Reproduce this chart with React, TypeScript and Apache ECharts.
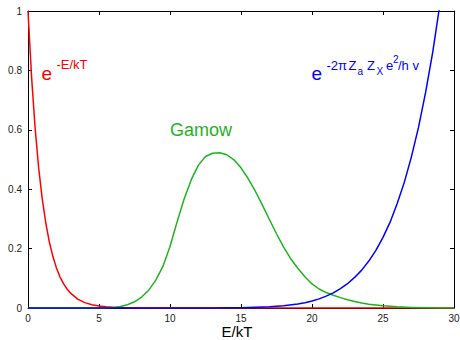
import React, { useEffect, useRef } from "react";
import * as echarts from "echarts";

// Axis ticks
const xTickValues = [0, 5, 10, 15, 20, 25, 30];
const yTickValues = [0, 0.2, 0.4, 0.6, 0.8, 1];

// Red: e^{-E/kT}
const redE = [0, 0.25, 0.5, 0.75, 1, 1.25, 1.5, 1.75, 2, 2.25, 2.5, 2.75, 3, 3.5, 4, 4.5, 5, 5.5, 6, 6.5, 7, 8, 9, 10, 30];
const redV = [1, 0.779, 0.607, 0.472, 0.368, 0.287, 0.223, 0.174, 0.135, 0.105, 0.082, 0.064, 0.05, 0.03, 0.018, 0.011, 0.0067, 0.0041, 0.0025, 0.0015, 0.0009, 0.0003, 0.0001, 0, 0];

// Green: Gamow peak
const gamowE = [0, 5, 5.5, 6, 6.5, 7, 7.5, 8, 8.5, 9, 9.5, 10, 10.5, 11, 11.5, 12, 12.5, 13, 13.5, 14, 14.5, 15, 15.5, 16, 16.5, 17, 17.5, 18, 18.5, 19, 19.5, 20, 20.5, 21, 21.5, 22, 22.5, 23, 23.5, 24, 24.5, 25, 26, 27, 28, 29, 30];
const gamowV = [0, 0, 0.0004, 0.0018, 0.005, 0.011, 0.021, 0.037, 0.06, 0.094, 0.14, 0.207, 0.29, 0.368, 0.432, 0.481, 0.51, 0.521, 0.523, 0.516, 0.499, 0.472, 0.436, 0.394, 0.347, 0.298, 0.25, 0.205, 0.166, 0.134, 0.105, 0.081, 0.064, 0.052, 0.043, 0.035, 0.028, 0.022, 0.017, 0.013, 0.01, 0.0075, 0.004, 0.002, 0.001, 0.0004, 0.0001];

// Blue: tunnelling factor
const blueE = [0, 10, 12, 13, 14, 15, 16, 17, 18, 19, 19.5, 20, 20.5, 21, 21.5, 22, 22.5, 23, 23.5, 24, 24.5, 25, 25.5, 26, 26.5, 27, 27.5, 28, 28.5, 29, 29.5];
const blueV = [0, 0.00003, 0.00013, 0.00027, 0.00055, 0.0011, 0.0022, 0.0041, 0.0076, 0.0136, 0.018, 0.0236, 0.0307, 0.04, 0.0508, 0.065, 0.0817, 0.103, 0.1275, 0.158, 0.194, 0.238, 0.289, 0.352, 0.423, 0.509, 0.608, 0.726, 0.861, 1.02, 1.2];

const RED = "#ff0000";
const GREEN = "#1db41d";
const BLUE = "#0000ff";
const FONT = '"Liberation Sans", Arial, Helvetica, sans-serif';

type Piece = { text: string; x: number; baseline: number; size: number; align?: string };

const redLabel: Piece[] = [
  { text: "e", x: 41.5, baseline: 80, size: 19 },
  { text: "-E/kT", x: 56.5, baseline: 69.5, size: 13 },
];

const blueLabel: Piece[] = [
  { text: "e", x: 311.5, baseline: 80, size: 19 },
  { text: "-2π", x: 326.5, baseline: 70, size: 13 },
  { text: "Z", x: 348.5, baseline: 70, size: 13 },
  { text: "a", x: 357.5, baseline: 75, size: 10 },
  { text: "Z", x: 367, baseline: 70, size: 13 },
  { text: "X", x: 376.5, baseline: 75, size: 10 },
  { text: "e", x: 386, baseline: 70, size: 13 },
  { text: "2", x: 393, baseline: 63, size: 10 },
  { text: "/h v", x: 398, baseline: 70, size: 13 },
];

const gamowLabel: Piece[] = [{ text: "Gamow", x: 170, baseline: 136, size: 18 }];

const axisTitle: Piece[] = [{ text: "E/kT", x: 237, baseline: 337, size: 15, align: "center" }];

function pieceElements(pieces: Piece[], color: string) {
  return pieces.map((p) => ({
    type: "text",
    x: p.x,
    y: p.baseline - 0.35 * p.size,
    style: {
      text: p.text,
      fill: color,
      font: `${p.size}px ${FONT}`,
      align: p.align || "left",
      textAlign: p.align || "left",
      verticalAlign: "middle",
      textVerticalAlign: "middle",
    },
    silent: true,
  }));
}

function zip(xs: number[], ys: number[]) {
  return xs.map((x, i) => [x, ys[i]]);
}

export default function App() {
  const ref = useRef<HTMLDivElement>(null);

  useEffect(() => {
    document.body.style.margin = "0";
    if (!ref.current) return;
    const chart = echarts.init(ref.current, undefined, { renderer: "svg" });

    const tickCommon = {
      show: true,
      inside: true,
      length: 4,
      lineStyle: { color: "#000", width: 1 },
    };
    const lineCommon = { show: true, onZero: false, lineStyle: { color: "#000", width: 1 } };
    const labelCommon = { color: "#222", fontSize: 10, fontFamily: FONT };

    const seriesLine = (name: string, xs: number[], ys: number[], color: string) => ({
      name,
      type: "line",
      data: zip(xs, ys),
      showSymbol: false,
      symbol: "none",
      smooth: false,
      clip: true,
      lineStyle: { color, width: 1.5, join: "round" },
      xAxisIndex: 0,
      yAxisIndex: 0,
    });

    chart.setOption({
      animation: false,
      backgroundColor: "#ffffff",
      grid: { left: 28, right: 6, top: 11, bottom: 32, containLabel: false, outerBoundsMode: "none" },
      xAxis: [
        {
          type: "value",
          min: xTickValues[0],
          max: xTickValues[xTickValues.length - 1],
          interval: 5,
          position: "bottom",
          axisLine: lineCommon,
          axisTick: tickCommon,
          axisLabel: { ...labelCommon, margin: 5 },
          splitLine: { show: false },
        },
        {
          type: "value",
          min: xTickValues[0],
          max: xTickValues[xTickValues.length - 1],
          interval: 5,
          position: "top",
          axisLine: lineCommon,
          axisTick: tickCommon,
          axisLabel: { show: false },
          splitLine: { show: false },
        },
      ],
      yAxis: [
        {
          type: "value",
          min: yTickValues[0],
          max: yTickValues[yTickValues.length - 1],
          interval: 0.2,
          position: "left",
          axisLine: lineCommon,
          axisTick: tickCommon,
          axisLabel: { ...labelCommon, margin: 6 },
          splitLine: { show: false },
        },
        {
          type: "value",
          min: yTickValues[0],
          max: yTickValues[yTickValues.length - 1],
          interval: 0.2,
          position: "right",
          axisLine: lineCommon,
          axisTick: tickCommon,
          axisLabel: { show: false },
          splitLine: { show: false },
        },
      ],
      series: [
        seriesLine("exp(-E/kT)", redE, redV, RED),
        seriesLine("Gamow", gamowE, gamowV, GREEN),
        seriesLine("tunnelling", blueE, blueV, BLUE),
      ],
      graphic: [
        ...pieceElements(redLabel, RED),
        ...pieceElements(gamowLabel, GREEN),
        ...pieceElements(blueLabel, BLUE),
        ...pieceElements(axisTitle, "#000"),
      ],
    });

    return () => chart.dispose();
  }, []);

  return (
    <div
      ref={ref}
      style={{ position: "fixed", left: 0, top: 0, width: 460, height: 340, background: "#fff" }}
    />
  );
}
